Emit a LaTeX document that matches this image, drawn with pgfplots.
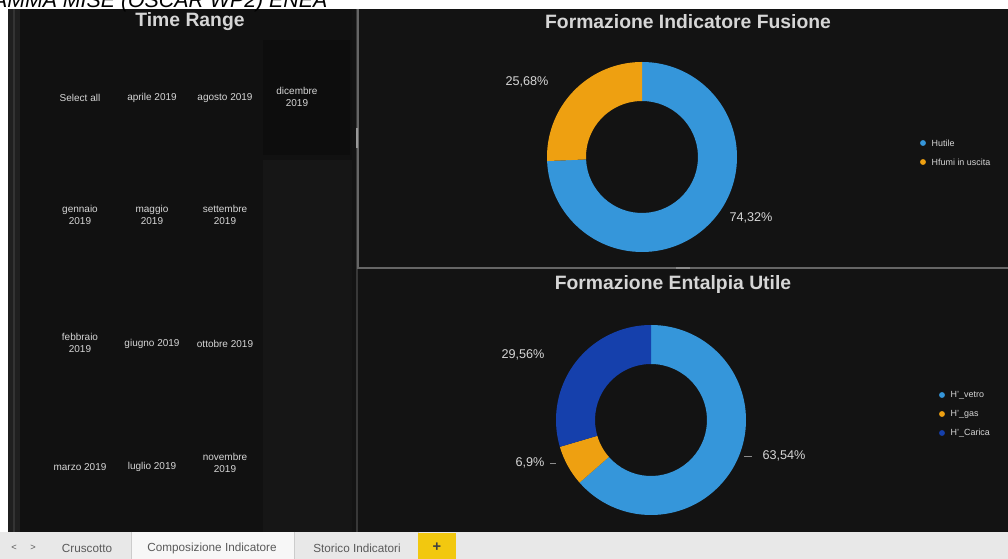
\documentclass[border=0pt]{standalone}
\usepackage{pgfplots}
\pgfplotsset{compat=1.18}
\usepackage{pgfplotstable}
\usepackage{fontspec}
\setmainfont{Liberation Sans}
\definecolor{pbiblue}{HTML}{3596DA}
\definecolor{pbiorange}{HTML}{EEA011}
\definecolor{pbidark}{HTML}{1540AC}
\definecolor{bgdark}{HTML}{131313}
\definecolor{panel}{HTML}{111111}
\definecolor{panelb}{HTML}{161616}
\definecolor{txt}{HTML}{D6D6D6}
\definecolor{tabbg}{HTML}{E8E8E8}
\definecolor{tabtxt}{HTML}{5A5A5A}
\definecolor{pbiyellow}{HTML}{F2C80F}
\pgfplotstableread{
part value
Hutile 74.32
Hfumi 25.68
}\fusione
\pgfplotstableread{
part value
Hvetro 63.54
Hgas 6.9
Hcarica 29.56
}\entalpia
% donut segment: cx cy R r a1 a2 colour
\newcommand\seg[7]{\fill[#7] (#1,#2) ++(#5:#3) arc[start angle=#5,end angle=#6,radius=#3] -- ++(#6+180:{#3-#4}) arc[start angle=#6,end angle=#5,radius=#4] -- cycle;}
\begin{document}
\begin{tikzpicture}
\pgfplotstablegetelem{0}{value}\of\fusione
\pgfmathsetmacro\fA{90-3.6*\pgfplotsretval}
\pgfplotstablegetelem{0}{value}\of\entalpia
\pgfmathsetmacro\eA{90-3.6*\pgfplotsretval}
\pgfplotstablegetelem{1}{value}\of\entalpia
\pgfmathsetmacro\eB{\eA-3.6*\pgfplotsretval}
\useasboundingbox (0,0) rectangle (756pt,419.25pt);
\begin{axis}[at={(0,0)},anchor=south west,scale only axis,width=756pt,height=419.25pt,
  xmin=0,xmax=1008,ymin=0,ymax=559,y dir=reverse,hide axis,clip=false]
% backgrounds
\fill[white] (0,0) rectangle (1008,559);
\fill[bgdark] (8,9) rectangle (1008,532);
\fill[black!88!white] (8,9) rectangle (20,532);
\draw[black!80!white,line width=1.2pt] (14,9) -- (14,532);
\fill[panel] (20,9) rectangle (352,532);
\fill[black!95!white] (263,40) rectangle (350,155);
\fill[panelb] (263,160) rectangle (352,532);
\fill[bgdark] (352,9) rectangle (1008,532);
\draw[black!78!white,line width=1pt] (357,9) -- (357,532);
\draw[black!60!white,line width=0.8pt] (358,9) -- (358,268) -- (1008,268);
\draw[black!40!white,line width=1.5pt] (357,128) -- (357,148);
\draw[black!45!white,line width=1.2pt] (676,268) -- (690,268);
% header text
\node[anchor=base east,font=\fontsize{16}{16}\selectfont\itshape,text=black] at (332,8) {PROGRAMMA MISE (OSCAR WP2) ENEA};
% titles
\node[font=\fontsize{14.5}{15}\selectfont\bfseries,text=txt] at (190,22) {Time Range};
\node[font=\fontsize{14.5}{15}\selectfont\bfseries,text=txt] at (688,22) {Formazione Indicatore Fusione};
\node[font=\fontsize{14.5}{15}\selectfont\bfseries,text=txt] at (673,285) {Formazione Entalpia Utile};
% slicer items
\begin{scope}[every node/.style={font=\fontsize{7.5}{9}\selectfont,text=txt,align=center}]
\node at (80,98) {Select all};
\node at (152,98) {aprile 2019};
\node at (225,98) {agosto 2019};
\node at (297,97) {dicembre\\2019};
\node at (80,215) {gennaio\\2019};
\node at (152,215) {maggio\\2019};
\node at (225,215) {settembre\\2019};
\node at (80,343) {febbraio\\2019};
\node at (152,344) {giugno 2019};
\node at (225,344) {ottobre 2019};
\node at (80,467) {marzo 2019};
\node at (152,467) {luglio 2019};
\node at (225,463) {novembre\\2019};
\end{scope}
% donut 1
\seg{642}{157}{71.25pt}{42pt}{90}{\fA}{pbiblue}
\seg{642}{157}{71.25pt}{42pt}{\fA}{-270}{pbiorange}
% donut 2
\seg{651}{420}{71.25pt}{42pt}{90}{\eA}{pbiblue}
\seg{651}{420}{71.25pt}{42pt}{\eA}{\eB}{pbiorange}
\seg{651}{420}{71.25pt}{42pt}{\eB}{-270}{pbidark}
% percent labels
\begin{scope}[every node/.style={font=\fontsize{9.5}{10}\selectfont,text=txt}]
\node at (527,82) {25,68\%};
\node at (751,218) {74,32\%};
\node at (523,355) {29,56\%};
\node at (530,463) {6,9\%};
\node at (784,456) {63,54\%};
\end{scope}
\draw[black!45!white,line width=0.5pt] (744,456) -- (752,456);
\draw[black!45!white,line width=0.5pt] (550,463) -- (556,463);
% legends
\fill[pbiblue] (923,143) circle[radius=2.2pt];
\fill[pbiorange] (923,162) circle[radius=2.2pt];
\begin{scope}[every node/.style={font=\fontsize{6.7}{7}\selectfont,text=txt,anchor=west}]
\node at (927,143) {Hutile};
\node at (927,162) {Hfumi in uscita};
\end{scope}
\fill[pbiblue] (942,395) circle[radius=2.2pt];
\fill[pbiorange] (942,414) circle[radius=2.2pt];
\fill[pbidark] (942,433) circle[radius=2.2pt];
\begin{scope}[every node/.style={font=\fontsize{6.7}{7}\selectfont,text=txt,anchor=west}]
\node at (946,395) {H'\_vetro};
\node at (946,414) {H'\_gas};
\node at (946,433) {H'\_Carica};
\end{scope}
% tab bar
\fill[tabbg] (0,532) rectangle (1008,559);
\fill[black!3!white] (131,532) rectangle (294,559);
\draw[black!20!white] (131,532) -- (131,559);
\draw[black!20!white] (294,532) -- (294,559);
\draw[black!20!white] (418,532) -- (418,559);
\fill[pbiyellow] (418,533) rectangle (456,559);
\begin{scope}[every node/.style={font=\fontsize{8.8}{9}\selectfont,text=tabtxt}]
\node[font=\fontsize{7}{7}\selectfont] at (14,548) {\textless};
\node[font=\fontsize{7}{7}\selectfont] at (33,548) {\textgreater};
\node at (87,548) {Cruscotto};
\node at (212,548) {Composizione Indicatore};
\node at (357,548) {Storico Indicatori};
\node[font=\fontsize{11}{11}\selectfont\bfseries,text=black!75!white] at (437,547) {+};
\end{scope}
\end{axis}
\end{tikzpicture}
\end{document}
